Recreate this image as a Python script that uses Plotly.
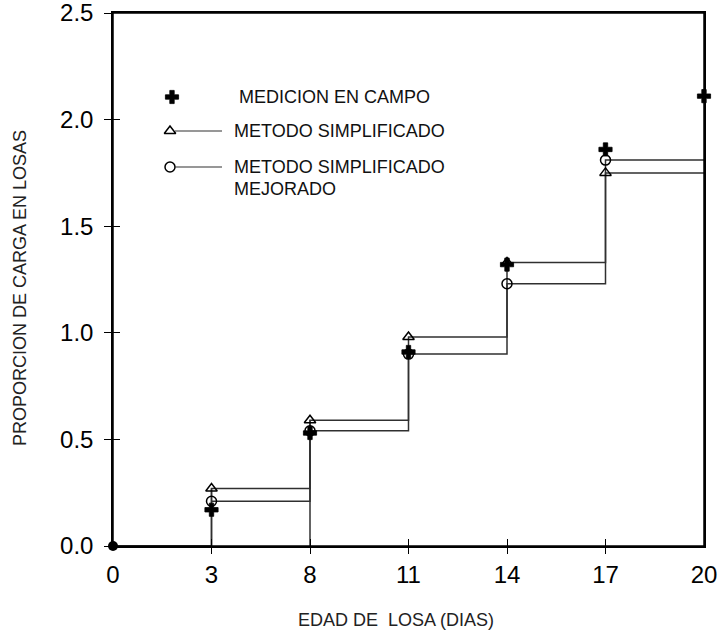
import plotly.graph_objects as go

# ---- data ----
days = ["0", "3", "8", "11", "14", "17", "20"]
medicion_campo = [0.17, 0.53, 0.91, 1.32, 1.86, 2.11]          # days 3..20
metodo_simplificado = [0.27, 0.59, 0.98, 1.33, 1.75]            # days 3..17
metodo_mejorado = [0.21, 0.54, 0.90, 1.23, 1.81]                # days 3..17
origin_value = [0.0]
y_ticks = [0.0, 0.5, 1.0, 1.5, 2.0, 2.5]

FONT = "Liberation Sans, Arial, sans-serif"
LINE_C = "#303030"

W, H = 718, 632
# plot area in window pixels
L, R, T, B = 113, 704, 13, 546
def px(x):
    return (x - L) / (R - L)
def py(y):
    return (B - y) / (B - T)

fig = go.Figure()

# step lines
sx = ["0"] + days[1:6] + ["20"]
sy = [0.0] + metodo_simplificado + [metodo_simplificado[-1]]
fig.add_trace(go.Scatter(x=sx, y=sy, mode="lines", line=dict(color=LINE_C, width=1.5, shape="hv"),
                         showlegend=False, hoverinfo="skip"))
mx = days[1:6] + ["20"]
my = metodo_mejorado + [metodo_mejorado[-1]]
fig.add_trace(go.Scatter(x=mx, y=my, mode="lines", line=dict(color=LINE_C, width=1.5, shape="hv"),
                         showlegend=False, hoverinfo="skip"))
# drop lines from baseline at first two ages
dx = [days[1], days[1], None, days[2], days[2]]
dy = [0, metodo_simplificado[0], None, 0, metodo_simplificado[1]]
fig.add_trace(go.Scatter(x=dx, y=dy, mode="lines", line=dict(color=LINE_C, width=1.5),
                         showlegend=False, hoverinfo="skip"))

# markers
fig.add_trace(go.Scatter(x=days[1:6], y=metodo_simplificado, mode="markers",
                         marker=dict(symbol="triangle-up-open", size=10, color="black", line=dict(width=1.5)),
                         showlegend=False, cliponaxis=False))
fig.add_trace(go.Scatter(x=days[1:6], y=metodo_mejorado, mode="markers",
                         marker=dict(symbol="circle-open", size=10, color="black", line=dict(width=1.5)),
                         showlegend=False, cliponaxis=False))
fig.add_trace(go.Scatter(x=days[1:], y=medicion_campo, mode="markers",
                         marker=dict(symbol="cross", size=11, color="black", line=dict(width=0.8, color="black")),
                         showlegend=False, cliponaxis=False))
fig.add_trace(go.Scatter(x=days[:1], y=origin_value, mode="markers",
                         marker=dict(symbol="circle", size=10, color="black"),
                         showlegend=False, cliponaxis=False))

# overlay axes for crossing ticks
fig.add_trace(go.Scatter(x=days, y=[None]*len(days), xaxis="x2", yaxis="y2", showlegend=False,
                         hoverinfo="skip"))
fig.add_trace(go.Scatter(x=days, y=[None]*len(days), xaxis="x4", yaxis="y2", showlegend=False,
                         hoverinfo="skip"))

# legend markers on a paper-like overlay axis
leg_x = [px(172), px(170), px(170)]
leg_y = [py(97), py(131), py(167)]
leg_sym = ["cross", "triangle-up-open", "circle-open"]
for lx, ly, sym in zip(leg_x, leg_y, leg_sym):
    is_cross = sym == "cross"
    fig.add_trace(go.Scatter(x=[lx], y=[ly], xaxis="x3", yaxis="y3", mode="markers",
                             marker=dict(symbol=sym, size=11 if is_cross else 10, color="black",
                                         line=dict(width=0.8 if is_cross else 1.5, color="black")),
                             showlegend=False, hoverinfo="skip", cliponaxis=False))

shapes = [dict(type="rect", xref="paper", yref="paper", x0=0, x1=1, y0=0, y1=1,
               line=dict(color="black", width=1.5), layer="above")]
for ly in leg_y[1:]:
    shapes.append(dict(type="line", xref="paper", yref="paper", x0=px(175), x1=px(222), y0=ly, y1=ly,
                       line=dict(color=LINE_C, width=1.2)))

ann_font = dict(family=FONT, size=18, color="#111111")
annotations = [
    dict(text="MEDICION EN CAMPO", x=px(237), y=py(97), xref="paper", yref="paper",
         xanchor="left", yanchor="middle", showarrow=False, font=ann_font),
    dict(text="METODO SIMPLIFICADO", x=px(232), y=py(131), xref="paper", yref="paper",
         xanchor="left", yanchor="middle", showarrow=False, font=ann_font),
    dict(text="METODO SIMPLIFICADO", x=px(232), y=py(167), xref="paper", yref="paper",
         xanchor="left", yanchor="middle", showarrow=False, font=ann_font),
    dict(text="MEJORADO", x=px(232), y=py(189), xref="paper", yref="paper",
         xanchor="left", yanchor="middle", showarrow=False, font=ann_font),
    dict(text="EDAD DE  LOSA (DIAS)", x=px(396), y=py(620), xref="paper", yref="paper",
         xanchor="center", yanchor="middle", showarrow=False, font=dict(family=FONT, size=18, color="#222222")),
    dict(text="PROPORCION DE CARGA EN LOSAS", x=px(20), y=py(288), xref="paper", yref="paper",
         xanchor="center", yanchor="middle", textangle=-90, showarrow=False,
         font=dict(family=FONT, size=18, color="#222222")),
]

tick_font = dict(family=FONT, size=24, color="black")
fig.update_layout(
    width=W, height=H,
    margin=dict(l=L, r=W - R, t=T, b=H - B, autoexpand=False),
    paper_bgcolor="white", plot_bgcolor="white",
    showlegend=False,
    xaxis=dict(type="category", categoryorder="array", categoryarray=days, range=[0, 6],
               tickvals=days, ticktext=days, ticks="", showgrid=False, zeroline=False,
               showline=True, linecolor="black", linewidth=1.5, mirror=True, automargin=False,
               tickfont=tick_font, ticklabelstandoff=6, ticklabeloverflow="allow"),
    yaxis=dict(range=[0, 2.5], tickvals=y_ticks, ticktext=[f"{v:.1f}" for v in y_ticks],
               ticks="outside", ticklen=7, tickwidth=1.2, tickcolor="black", automargin=False,
               showgrid=False, zeroline=False, showline=True, linecolor="black", linewidth=1.5,
               mirror=True, tickfont=tick_font, ticklabelstandoff=6, ticklabeloverflow="allow"),
    xaxis2=dict(type="category", categoryorder="array", categoryarray=days, range=[0, 6],
                overlaying="x", tickvals=days[1:6], showticklabels=False, ticks="outside",
                ticklen=7, tickwidth=1.2, tickcolor="black", showgrid=False, zeroline=False,
                showline=False, anchor="y2", side="bottom", automargin=False),
    yaxis2=dict(range=[0, 2.5], overlaying="y", tickvals=y_ticks[1:5], showticklabels=False,
                ticks="inside", ticklen=7, tickwidth=1.2, tickcolor="black", showgrid=False,
                zeroline=False, showline=False, anchor="x2", side="left", automargin=False),
    xaxis3=dict(range=[0, 1], overlaying="x", visible=False, anchor="y3", automargin=False),
    yaxis3=dict(range=[0, 1], overlaying="y", visible=False, anchor="x3", automargin=False),
    xaxis4=dict(type="category", categoryorder="array", categoryarray=days, range=[0, 6],
                overlaying="x", tickvals=days[1:6], showticklabels=False, ticks="inside",
                ticklen=7, tickwidth=1.2, tickcolor="black", showgrid=False,
                zeroline=False, showline=False, anchor="y2", side="bottom", automargin=False),
    shapes=shapes,
    annotations=annotations,
)

fig.write_html("out.html", config={"displayModeBar": False},
               post_script="document.body.style.margin='0';document.body.style.padding='0';")
